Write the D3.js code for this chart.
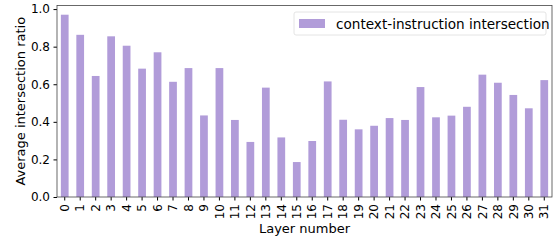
<!DOCTYPE html>
<html>
<head>
<meta charset="utf-8">
<script src="https://cdn.jsdelivr.net/npm/d3@7"></script>
<style>
  body { margin: 0; background: #fff; }
  text { font-family: "DejaVu Sans", sans-serif; }
</style>
</head>
<body>
<div id="chart"></div>
<script>
// layer indices and average intersection ratios
const layers = d3.range(32).map(String)
const ratios = [0.970, 0.863, 0.644, 0.855, 0.805, 0.683, 0.770, 0.613,
  0.686, 0.434, 0.686, 0.410, 0.293, 0.582, 0.317, 0.186,
  0.298, 0.615, 0.411, 0.360, 0.379, 0.420, 0.410, 0.585,
  0.424, 0.433, 0.480, 0.651, 0.608, 0.543, 0.472, 0.622]
const yTicks = [0, 0.2, 0.4, 0.6, 0.8, 1.0]
const seriesName = 'context-instruction intersection'

const width = 558
const height = 242
const margin = { top: 5.5, right: 6, bottom: 45, left: 57 }
const color = '#b19cd9'

const svg = d3.select('#chart')
  .append('svg')
    .attr('width', width)
    .attr('height', height)

const x = d3.scaleBand()
  .domain(layers)
  .range([margin.left, width - margin.right])
  .paddingInner(0.5)
  .paddingOuter(0.25)

const y = d3.scaleLinear()
  .domain([0, 1.019])
  .range([height - margin.bottom, margin.top])

// bars
svg.append('g')
  .selectAll('rect')
  .data(ratios)
  .join('rect')
    .attr('x', (d, i) => x(layers[i]))
    .attr('y', d => y(d))
    .attr('width', x.bandwidth())
    .attr('height', d => y(0) - y(d))
    .attr('fill', color)

// axes
const xAxis = svg.append('g')
  .attr('transform', `translate(0,${height - margin.bottom})`)
  .call(d3.axisBottom(x).tickSize(3.5).tickPadding(2))
xAxis.select('.domain').remove()
xAxis.selectAll('text')
  .attr('font-size', 12)
  .attr('font-family', 'DejaVu Sans')
  .attr('fill', '#000')
  .attr('transform', 'rotate(-90)')
  .attr('text-anchor', 'end')
  .attr('x', -7)
  .attr('y', 0)
  .attr('dy', '0.35em')

const yAxis = svg.append('g')
  .attr('transform', `translate(${margin.left},0)`)
  .call(d3.axisLeft(y).tickValues(yTicks).tickFormat(d3.format('.1f')).tickSize(3.5).tickPadding(3.5))
yAxis.select('.domain').remove()
yAxis.selectAll('text')
  .attr('font-size', 12)
  .attr('font-family', 'DejaVu Sans')
  .attr('fill', '#000')

// frame
svg.append('rect')
  .attr('x', margin.left)
  .attr('y', margin.top)
  .attr('width', width - margin.left - margin.right)
  .attr('height', height - margin.top - margin.bottom)
  .attr('fill', 'none')
  .attr('stroke', '#444')
  .attr('stroke-width', 0.8)

// axis labels
svg.append('text')
  .attr('x', (margin.left + width - margin.right) / 2)
  .attr('y', 233)
  .attr('text-anchor', 'middle')
  .attr('font-size', 13)
  .text('Layer number')

svg.append('text')
  .attr('transform', `translate(25,${(margin.top + height - margin.bottom) / 2}) rotate(-90)`)
  .attr('text-anchor', 'middle')
  .attr('font-size', 13)
  .text('Average intersection ratio')

// legend
const legend = svg.append('g').attr('transform', 'translate(294,12)')
legend.append('rect')
  .attr('width', 252)
  .attr('height', 23)
  .attr('rx', 2)
  .attr('fill', '#fff')
  .attr('stroke', '#ddd')
  .attr('stroke-width', 0.8)
legend.append('rect')
  .attr('x', 5)
  .attr('y', 7)
  .attr('width', 26)
  .attr('height', 9)
  .attr('fill', color)
legend.append('text')
  .attr('x', 42)
  .attr('y', 16.5)
  .attr('font-size', 13.6)
  .text(seriesName)
</script>
</body>
</html>
